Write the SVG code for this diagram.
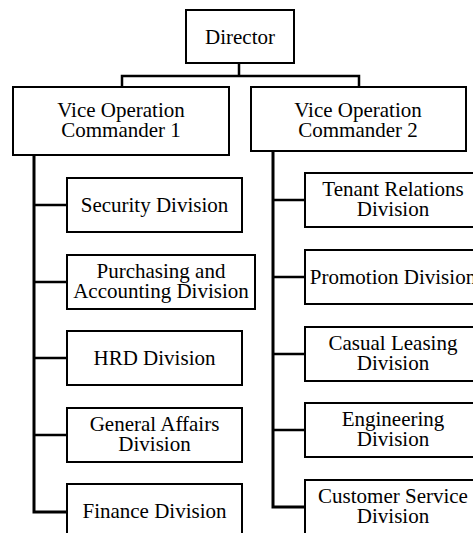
<svg xmlns="http://www.w3.org/2000/svg" width="473" height="533" viewBox="0 0 473 533">
<style>
.box{fill:#fff;stroke:#000;stroke-width:2}
.t{font-size:21px;fill:#000;text-anchor:middle}
.c{fill:none;stroke:#000;stroke-width:2.5}
.trunk{fill:none;stroke:#000;stroke-width:3}
</style>
<rect width="473" height="533" fill="#fff"/>
<g id="connectors">
<path class="c" d="M239,63V76M122,87V76H359V87"/>
<path class="trunk" d="M34,155V512H67"/>
<path class="c" d="M34,205H67M34,282H67M34,358H67M34,435H67"/>
<path class="trunk" d="M273,151V507H305"/>
<path class="c" d="M273,200H305M273,277H305M273,354H305M273,430H305"/>
</g>
<g font-family="Liberation Serif, Times New Roman, DejaVu Serif, serif">
<g id="director"><rect class="box" x="186" y="10" width="108" height="53"/><text class="t" x="240" y="44">Director</text></g>
<g id="voc1"><rect class="box" x="13" y="87" width="216" height="68"/><text class="t" x="121" y="117">Vice Operation</text><text class="t" x="121" y="137">Commander 1</text></g>
<g id="voc2"><rect class="box" x="251" y="87" width="215" height="64"/><text class="t" x="358" y="117">Vice Operation</text><text class="t" x="358" y="137">Commander 2</text></g>
<g id="security"><rect class="box" x="67" y="178" width="175" height="54"/><text class="t" x="154.5" y="212">Security Division</text></g>
<g id="purchasing"><rect class="box" x="67" y="255" width="188" height="54"/><text class="t" x="161" y="278">Purchasing and</text><text class="t" x="161" y="298">Accounting Division</text></g>
<g id="hrd"><rect class="box" x="67" y="331" width="175" height="54"/><text class="t" x="154.5" y="365">HRD Division</text></g>
<g id="general"><rect class="box" x="67" y="408" width="175" height="54"/><text class="t" x="154.5" y="431">General Affairs</text><text class="t" x="154.5" y="451">Division</text></g>
<g id="finance"><rect class="box" x="67" y="484" width="175" height="54"/><text class="t" x="154.5" y="518">Finance Division</text></g>
<g id="tenant"><rect class="box" x="305" y="173" width="176" height="54"/><text class="t" x="393" y="196">Tenant Relations</text><text class="t" x="393" y="216">Division</text></g>
<g id="promotion"><rect class="box" x="305" y="250" width="176" height="54"/><text class="t" x="393" y="284">Promotion Division</text></g>
<g id="casual"><rect class="box" x="305" y="327" width="176" height="54"/><text class="t" x="393" y="350">Casual Leasing</text><text class="t" x="393" y="370">Division</text></g>
<g id="engineering"><rect class="box" x="305" y="403" width="176" height="54"/><text class="t" x="393" y="426">Engineering</text><text class="t" x="393" y="446">Division</text></g>
<g id="customer"><rect class="box" x="305" y="480" width="176" height="54"/><text class="t" x="393" y="503">Customer Service</text><text class="t" x="393" y="523">Division</text></g>
</g>
</svg>
